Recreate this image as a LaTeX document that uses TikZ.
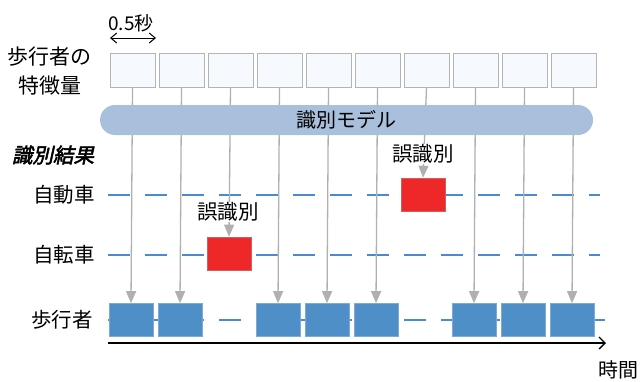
\documentclass[tikz,border=0pt]{standalone}
\usepackage{fontspec}
\newfontfamily\cjk{Noto Sans CJK JP}
\newfontfamily\cjkbi[FakeSlant=0.22,FakeBold=2.5]{Noto Sans CJK JP}
\usetikzlibrary{arrows.meta}
\definecolor{featborder}{HTML}{B4B4B4}
\definecolor{featfill}{HTML}{F6F9FD}
\definecolor{modelfill}{HTML}{A9C0DD}
\definecolor{pedfill}{HTML}{4F8FC8}
\definecolor{pedborder}{HTML}{7FAAD4}
\definecolor{errfill}{HTML}{EE2828}
\definecolor{errborder}{HTML}{D06060}
\definecolor{dashblue}{HTML}{4A8AD0}
\definecolor{arrowgray}{HTML}{B0B0B0}
\tikzset{
  featbox/.style={draw=featborder, fill=featfill, line width=0.9pt, minimum width=45pt, minimum height=34pt, inner sep=0pt},
  pedbox/.style={draw=pedborder, fill=pedfill, line width=0.6pt, minimum width=44pt, minimum height=33pt, inner sep=0pt},
  errbox/.style={draw=errborder, fill=errfill, line width=0.6pt, minimum width=44pt, minimum height=33pt, inner sep=0pt},
  rowlabel/.style={font=\cjk\fontsize{20.5pt}{24pt}\selectfont, anchor=east, inner sep=0pt},
  errlabel/.style={font=\cjk\fontsize{20.5pt}{24pt}\selectfont, fill=white, inner sep=1pt},
  feedarrow/.style={draw=arrowgray, line width=1.3pt, -{Triangle[length=12pt,width=10pt]}},
  rowdash/.style={draw=dashblue, line width=1.1pt, dash pattern=on 22pt off 15pt},
}
\begin{document}
\begin{tikzpicture}[x=1pt,y=-1pt]
\useasboundingbox (0,0) rectangle (640,381);
% row dashed lines
\coordinate (carL) at (108,195); \coordinate (carR) at (600,195);
\coordinate (bikeL) at (108,255); \coordinate (bikeR) at (600,255);
\coordinate (pedL) at (108,320); \coordinate (pedR) at (605,320);
\draw[rowdash] (carL) -- (carR);
\draw[rowdash] (bikeL) -- (bikeR);
\draw[rowdash] (pedL) -- (pedR);
% feature boxes
\foreach \i in {0,...,9} {
  \node[featbox] (f\i) at (132.5+49*\i,70) {};
}
% result boxes
\foreach \i in {0,1,3,4,5,7,8,9} {
  \node[pedbox] (r\i) at (131+49*\i,320) {};
}
\node[errbox] (r2) at (229,253.5) {};
\node[errbox] (r6) at (423,194.5) {};
% arrows
\foreach \i in {0,...,9} {
  \draw[feedarrow] (f\i.south) -- (r\i.north);
}
% model bar
\node[fill=modelfill, rounded corners=15pt, minimum width=493pt, minimum height=30pt, inner sep=0pt,
      font=\cjk\fontsize{20pt}{24pt}\selectfont] (model) at (346.5,120) {識別モデル};
% error labels
\node[errlabel] (e6) at (423,154) {誤識別};
\node[errlabel] (e2) at (228,212) {誤識別};
% labels
\node[font=\cjk\fontsize{21pt}{29pt}\selectfont, align=center, inner sep=0pt] (featlabel) at (50,71) {歩行者の\\特徴量};
\node[font=\cjkbi\fontsize{20.5pt}{24pt}\selectfont, inner sep=0pt] (reslabel) at (53,155) {識別結果};
\node[rowlabel] (carlabel) at (95,195) {自動車};
\node[rowlabel] (bikelabel) at (95,255) {自転車};
\node[rowlabel] (pedlabel) at (93,320) {歩行者};
% 0.5 s
\node[font=\cjk\fontsize{19pt}{22pt}\selectfont, inner sep=0pt] (halfsec) at (131,23) {0.5秒};
\coordinate (hsL) at (110,38); \coordinate (hsR) at (156,38);
\draw[line width=1pt, {Straight Barb[length=6pt,width=10pt]}-{Straight Barb[length=6pt,width=10pt]}] (hsL) -- (hsR);
% time axis
\coordinate (tL) at (108,343); \coordinate (tR) at (606,343);
\draw[line width=1.3pt, -{Straight Barb[length=6pt,width=12pt]}] (tL) -- (tR);
\node[font=\cjk\fontsize{20pt}{24pt}\selectfont, inner sep=0pt] (timelabel) at (618,370) {時間};
\end{tikzpicture}
\end{document}
